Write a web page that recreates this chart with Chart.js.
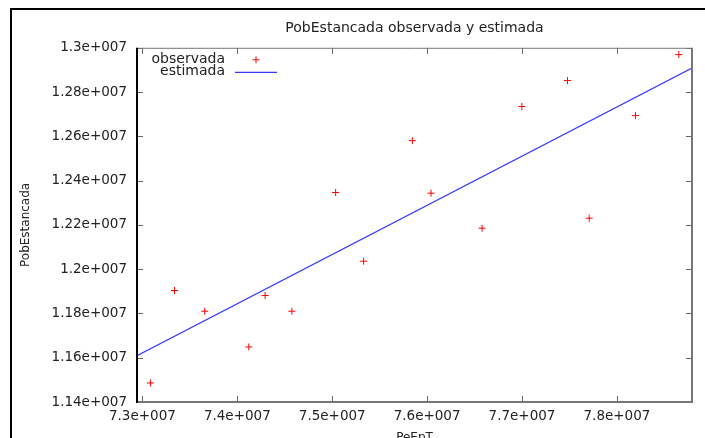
<!DOCTYPE html>
<html>
<head>
<meta charset="utf-8">
<title>PobEstancada observada y estimada</title>
<script src="https://cdn.jsdelivr.net/npm/chart.js@4"></script>
<style>
  html, body { margin: 0; padding: 0; background: #fff; }
  #wrap { position: relative; width: 705px; height: 438px; overflow: hidden; }
  #frame {
    position: absolute; left: 10px; top: 8px; right: -10px; bottom: -10px;
    border-top: 2px solid #000; border-left: 2px solid #000;
    pointer-events: none;
  }
</style>
</head>
<body>
<div id="wrap">
  <canvas id="fitChart" width="705" height="438"></canvas>
  <div id="frame"></div>
</div>
<script>
// Observed values
const obsX = [73.084e6, 73.338e6, 73.657e6, 74.121e6, 74.293e6, 74.575e6, 75.036e6, 75.331e6,
              75.844e6, 76.041e6, 76.579e6, 76.998e6, 77.479e6, 77.708e6, 78.195e6, 78.652e6];
const obsY = [11.486e6, 11.9035e6, 11.81e6, 11.6486e6, 11.881e6, 11.81e6, 12.3464e6, 12.036e6,
              12.5806e6, 12.3433e6, 12.185e6, 12.735e6, 12.852e6, 12.2303e6, 12.6936e6, 12.9693e6];

// Fitted line, end points at the edges of the x range
const estX = [72.943e6, 78.791e6];
const estY = [11.6088e6, 12.9083e6];

// Axis ranges and ticks
const xRange = [72.943e6, 78.791e6];
const yRange = [11.4e6, 13.0e6];
const xTicks = [73e6, 74e6, 75e6, 76e6, 77e6, 78e6];
const yTicks = [11.4e6, 11.6e6, 11.8e6, 12.0e6, 12.2e6, 12.4e6, 12.6e6, 12.8e6, 13.0e6];

const FONT = 'DejaVu Sans';
const TEXT = '#222';

// gnuplot style exponent: 7.3e+007
function fmtExp(v) {
  const parts = v.toExponential().split('e');
  const exp = parts[1];
  return parts[0] + 'e' + exp[0] + exp.slice(1).padStart(3, '0');
}

function toPoints(xs, ys) {
  return xs.map((x, i) => ({ x: x, y: ys[i] }));
}

// Frame, inward tick marks on all four sides and the key
const framePlugin = {
  id: 'gnuFrame',
  afterDatasetsDraw(chart) {
    const { ctx, chartArea: a, scales } = chart;
    const tick = 6;
    ctx.save();

    ctx.strokeStyle = '#666';
    ctx.lineWidth = 1;
    scales.x.ticks.forEach(t => {
      const px = Math.round(scales.x.getPixelForValue(t.value)) + 0.5;
      ctx.beginPath();
      ctx.moveTo(px, a.bottom); ctx.lineTo(px, a.bottom - tick);
      ctx.moveTo(px, a.top); ctx.lineTo(px, a.top + tick);
      ctx.stroke();
    });
    scales.y.ticks.forEach(t => {
      const py = Math.round(scales.y.getPixelForValue(t.value)) + 0.5;
      ctx.beginPath();
      ctx.moveTo(a.left, py); ctx.lineTo(a.left + tick, py);
      ctx.moveTo(a.right, py); ctx.lineTo(a.right - tick, py);
      ctx.stroke();
    });

    // top and right border
    ctx.strokeStyle = '#777';
    ctx.lineWidth = 1;
    ctx.beginPath();
    ctx.moveTo(a.left, a.top + 0.5); ctx.lineTo(a.right, a.top + 0.5);
    ctx.stroke();
    ctx.lineWidth = 2;
    ctx.beginPath();
    ctx.moveTo(a.right, a.top); ctx.lineTo(a.right, a.bottom);
    ctx.moveTo(a.left, a.bottom); ctx.lineTo(a.right + 1, a.bottom);
    ctx.stroke();
    // left border
    ctx.strokeStyle = '#000';
    ctx.beginPath();
    ctx.moveTo(a.left, a.top); ctx.lineTo(a.left, a.bottom + 1);
    ctx.stroke();

    // key, top left inside the plot
    const textX = a.left + 88;
    const sampleX = a.left + 98;
    const sampleW = 42;
    ctx.font = '14px ' + FONT;
    ctx.textAlign = 'right';
    ctx.textBaseline = 'middle';
    chart.data.datasets.forEach((ds, i) => {
      const y = a.top + 12 + i * 12;
      ctx.fillStyle = TEXT;
      ctx.fillText(ds.label, textX, y);
      ctx.strokeStyle = ds.borderColor;
      ctx.lineWidth = ds.borderWidth;
      ctx.beginPath();
      if (ds.showLine) {
        ctx.moveTo(sampleX, y + 0.5); ctx.lineTo(sampleX + sampleW, y + 0.5);
      } else {
        const cx = sampleX + sampleW / 2, r = ds.pointRadius;
        ctx.moveTo(cx - r, y); ctx.lineTo(cx + r, y);
        ctx.moveTo(cx, y - r); ctx.lineTo(cx, y + r);
      }
      ctx.stroke();
    });
    ctx.restore();
  }
};

new Chart(document.getElementById('fitChart'), {
  type: 'scatter',
  data: {
    datasets: [
      {
        label: 'observada',
        data: toPoints(obsX, obsY),
        pointStyle: 'cross',
        pointRadius: 3.5,
        borderColor: '#ff0000',
        borderWidth: 1,
        showLine: false
      },
      {
        label: 'estimada',
        data: toPoints(estX, estY),
        borderColor: '#3a3aff',
        borderWidth: 1.2,
        pointRadius: 0,
        showLine: true
      }
    ]
  },
  options: {
    responsive: false,
    animation: false,
    layout: { padding: { top: 0, left: 0, right: 13, bottom: 0 } },
    plugins: {
      legend: { display: false },
      tooltip: { enabled: false },
      title: {
        display: true,
        fullSize: false,
        text: 'PobEstancada observada y estimada',
        color: TEXT,
        font: { family: FONT, size: 14, weight: 'normal' },
        padding: { top: 20, bottom: 11 }
      }
    },
    scales: {
      x: {
        type: 'linear',
        min: xRange[0],
        max: xRange[1],
        grid: { display: false, drawTicks: false },
        border: { display: false },
        afterBuildTicks: scale => { scale.ticks = xTicks.map(v => ({ value: v })); },
        afterFit: scale => { scale.height = 36; },
        ticks: {
          color: TEXT,
          padding: 6,
          maxRotation: 0,
          font: { family: FONT, size: 13.5 },
          callback: v => fmtExp(v)
        },
        title: {
          display: true,
          text: 'PeEpT',
          color: TEXT,
          font: { family: FONT, size: 12 },
          padding: { top: 0, bottom: -7 }
        }
      },
      y: {
        type: 'linear',
        min: yRange[0],
        max: yRange[1],
        grid: { display: false, drawTicks: false },
        border: { display: false },
        afterBuildTicks: scale => { scale.ticks = yTicks.map(v => ({ value: v })); },
        afterFit: scale => { scale.width = 137; },
        ticks: {
          color: TEXT,
          padding: 10,
          font: { family: FONT, size: 13.5 },
          callback: v => fmtExp(v)
        },
        title: {
          display: true,
          text: 'PobEstancada',
          color: TEXT,
          font: { family: FONT, size: 12 },
          padding: { top: 19, bottom: 0 }
        }
      }
    }
  },
  plugins: [framePlugin]
});
</script>
</body>
</html>
